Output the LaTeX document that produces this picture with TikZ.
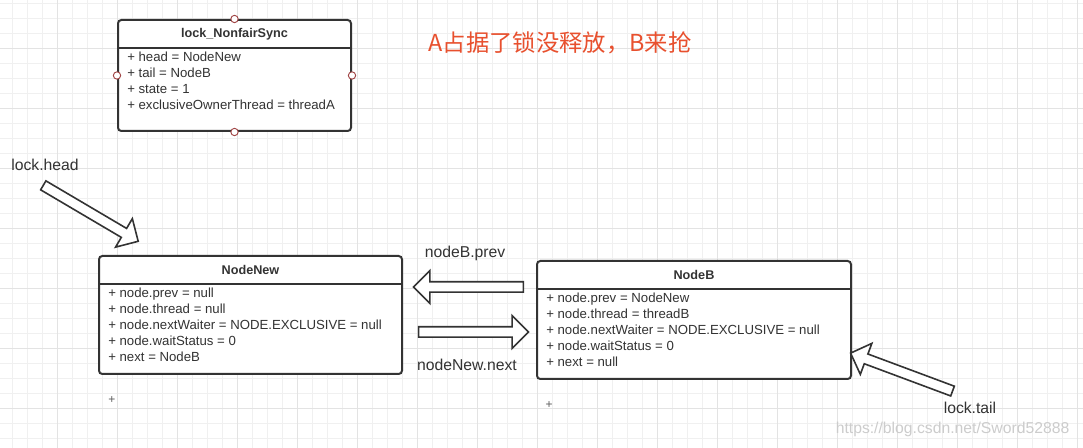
\documentclass[tikz,border=0pt]{standalone}
\usepackage{fontspec}
\setmainfont{Liberation Sans}
\newfontfamily\cjkfont{Noto Sans CJK SC}
\usetikzlibrary{positioning,calc,shapes.arrows}
\definecolor{gridminor}{HTML}{F0F0F0}
\definecolor{gridmajor}{HTML}{E3E3E3}
\definecolor{boxline}{HTML}{333333}
\definecolor{portred}{HTML}{A04444}
\definecolor{titlered}{HTML}{E8502E}
\newcommand{\field}[2]{+ #1 = #2}
\newcommand{\blockarrow}[3]{%
  \path let \p1=(#1), \p2=(#2),
    \n1={atan2(\y2-\y1,\x2-\x1)}, \n2={veclen(\x2-\x1,\y2-\y1)} in
    node[blockarrow, minimum height=\n2, rotate=\n1] (#3) at ($(#1)!0.5!(#2)$) {};}
\tikzset{
  classbox/.style={draw=boxline, line width=1.5pt, rounded corners=2.5pt,
    fill=white, anchor=north west, inner sep=0pt},
  classline/.style={draw=boxline, line width=1.5pt},
  classname/.style={font=\fontsize{9.5}{11}\selectfont\bfseries, text=boxline},
  members/.style={font=\fontsize{9.9}{12}\selectfont, text=boxline,
    align=left, anchor=north west, inner sep=0pt},
  port/.style={circle, draw=portred, fill=white, line width=0.7pt,
    inner sep=0pt, minimum size=5.5pt},
  plusmark/.style={font=\fontsize{9}{10}\selectfont, text=boxline!80},
  pointer/.style={font=\fontsize{11.8}{13}\selectfont, text=boxline},
  blockarrow/.style={single arrow, draw=boxline, fill=white, line width=1.2pt,
    inner xsep=0pt, inner ysep=3.3pt, single arrow head extend=8.5pt,
    single arrow tip angle=90},
}
\begin{document}
\begin{tikzpicture}[x=0.75pt,y=-0.75pt]
\useasboundingbox (0,0) rectangle (1083,448);
\fill[white] (0,0) rectangle (1083,448);
\foreach \gx in {12,27,...,1083} \draw[gridminor, line width=0.75pt] (\gx,0) -- (\gx,448);
\foreach \gy in {4,19,...,448} \draw[gridminor, line width=0.75pt] (0,\gy) -- (1083,\gy);
\foreach \gx in {57,117,...,1083} \draw[gridmajor, line width=0.75pt] (\gx,0) -- (\gx,448);
\foreach \gy in {49,109,...,448} \draw[gridmajor, line width=0.75pt] (0,\gy) -- (1083,\gy);

\node[classbox, minimum width=174.75pt, minimum height=83.25pt] (sync) at (117,19) {};
\draw[classline] ($(sync.north west)+(0,29)$) -- ($(sync.north east)+(0,29)$);
\node[classname] (syncname) at ($(sync.north)+(0,15)$) {lock\_NonfairSync};
\node[members] (syncattr) at ($(sync.north west)+(10,33)$) {%
  \field{head}{NodeNew}\\
  \field{tail}{NodeB}\\
  \field{state}{1}\\
  \field{exclusiveOwnerThread}{threadA}};
\foreach \side in {north,south,west,east}
  \node[port] (sync-\side) at (sync.\side) {};

\node[classbox, minimum width=227.25pt, minimum height=88.5pt] (nodenew) at (98,255) {};
\draw[classline] ($(nodenew.north west)+(0,29)$) -- ($(nodenew.north east)+(0,29)$);
\node[classname] (nodenewname) at ($(nodenew.north)+(0,15)$) {NodeNew};
\node[members] (nodenewattr) at ($(nodenew.north west)+(10,33)$) {%
  \field{node.prev}{null}\\
  \field{node.thread}{null}\\
  \field{node.nextWaiter}{NODE.EXCLUSIVE = null}\\
  \field{node.waitStatus}{0}\\
  \field{next}{NodeB}};
\node[plusmark] (nodenewplus) at ($(nodenew.south west)+(14,25)$) {+};

\node[classbox, minimum width=235.5pt, minimum height=88.5pt] (nodeb) at (536,260) {};
\draw[classline] ($(nodeb.north west)+(0,29)$) -- ($(nodeb.north east)+(0,29)$);
\node[classname] (nodebname) at ($(nodeb.north)+(0,15)$) {NodeB};
\node[members] (nodebattr) at ($(nodeb.north west)+(10,33)$) {%
  \field{node.prev}{NodeNew}\\
  \field{node.thread}{threadB}\\
  \field{node.nextWaiter}{NODE.EXCLUSIVE = null}\\
  \field{node.waitStatus}{0}\\
  \field{next}{null}};
\node[plusmark] (nodebplus) at ($(nodeb.south west)+(13,25)$) {+};

\node[font=\cjkfont\fontsize{17.5}{19}\selectfont, text=titlered] (title) at (560,43) {A占据了锁没释放，B来抢};

\node[pointer] (headlabel) at (45,165) {lock.head};
\coordinate (headtail) at (41,184);
\coordinate (headtip) at (136,240);
\blockarrow{headtail}{headtip}{headarrow}

\node[pointer] (prevlabel) at (465,253) {nodeB.prev};
\coordinate (prevtail) at (526,287);
\coordinate (prevtip) at (416,287);
\blockarrow{prevtail}{prevtip}{prevarrow}

\node[pointer] (nextlabel) at (467,365) {nodeNew.next};
\coordinate (nexttail) at (416,332);
\coordinate (nexttip) at (526,332);
\blockarrow{nexttail}{nexttip}{nextarrow}

\node[pointer] (taillabel) at (970,408) {lock.tail};
\coordinate (tailtail) at (955,392);
\coordinate (tailtip) at (853,354);
\blockarrow{tailtail}{tailtip}{tailarrow}

\node[font=\fontsize{11.8}{13}\selectfont, text=black!20, anchor=east] (watermark) at (1074,429) {https://blog.csdn.net/Sword52888};
\end{tikzpicture}
\end{document}
